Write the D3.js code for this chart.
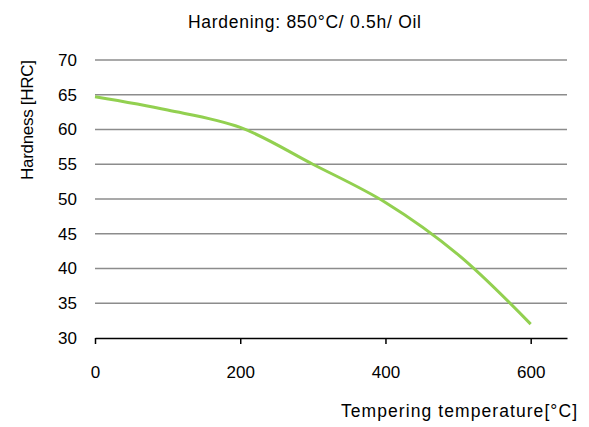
<!DOCTYPE html>
<html>
<head>
<meta charset="utf-8">
<script src="https://cdn.jsdelivr.net/npm/d3@7"></script>
<style>
  body { margin: 0; background: #fff; }
  text { font-family: "Liberation Sans", Arial, sans-serif; fill: #000; }
</style>
</head>
<body>
<svg id="chart" width="589" height="427"></svg>
<script>
const temps = [0, 100, 200, 300, 400, 500, 600];
const hardness = [64.7, 62.8, 60.3, 55, 49.5, 42, 32];
const xTicks = [0, 200, 400, 600];
const yTicks = [30, 35, 40, 45, 50, 55, 60, 65, 70];

const svg = d3.select("#chart");
const margin = { left: 95, right: 22, top: 60, bottom: 89 };
const width = 589 - margin.left - margin.right;
const height = 427 - margin.top - margin.bottom;

const x = d3.scaleLinear().domain([0, 650]).range([margin.left, margin.left + width]);
const y = d3.scaleLinear().domain([30, 70]).range([margin.top + height, margin.top]);

// gridlines
svg.append("g")
  .selectAll("line")
  .data(yTicks.filter((d) => d > 30))
  .enter()
  .append("line")
  .attr("x1", x(0))
  .attr("x2", x(650))
  .attr("y1", (d) => y(d))
  .attr("y2", (d) => y(d))
  .attr("stroke", "#8c8c8c")
  .attr("stroke-width", 1.5);

// y tick labels
svg.append("g")
  .selectAll("text")
  .data(yTicks)
  .enter()
  .append("text")
  .attr("x", 77)
  .attr("y", (d) => y(d))
  .attr("dy", "0.35em")
  .attr("text-anchor", "end")
  .style("font-size", "17px")
  .text((d) => d);

// x axis
const xAxis = d3.axisBottom(x).tickValues(xTicks).tickSize(6).tickSizeOuter(0).tickPadding(22);
const gx = svg.append("g")
  .attr("transform", `translate(0,${y(30)})`)
  .call(xAxis);
gx.select(".domain").attr("stroke", "#000").attr("stroke-width", 1.5);
gx.selectAll(".tick line").attr("stroke", "#000").attr("stroke-width", 1.5);
gx.selectAll(".tick text")
  .style("font-size", "17px")
  .style("font-family", "'Liberation Sans', Arial, sans-serif");

// curve
const line = d3.line()
  .x((d, i) => x(temps[i]))
  .y((d) => y(d))
  .curve(d3.curveCatmullRom.alpha(0.5));

svg.append("path")
  .datum(hardness)
  .attr("d", line)
  .attr("fill", "none")
  .attr("stroke", "#92d050")
  .attr("stroke-width", 3);

// titles
svg.append("text")
  .attr("x", 304.5)
  .attr("y", 28)
  .attr("text-anchor", "middle")
  .attr("textLength", 233)
  .attr("lengthAdjust", "spacing")
  .style("font-size", "17.5px")
  .text("Hardening: 850°C/ 0.5h/ Oil");

svg.append("text")
  .attr("transform", "translate(33,120) rotate(-90)")
  .attr("text-anchor", "middle")
  .attr("textLength", 120)
  .attr("lengthAdjust", "spacing")
  .style("font-size", "17px")
  .text("Hardness [HRC]");

svg.append("text")
  .attr("x", 577)
  .attr("y", 417)
  .attr("text-anchor", "end")
  .attr("textLength", 236)
  .attr("lengthAdjust", "spacing")
  .style("font-size", "17.5px")
  .text("Tempering temperature[°C]");
</script>
</body>
</html>
